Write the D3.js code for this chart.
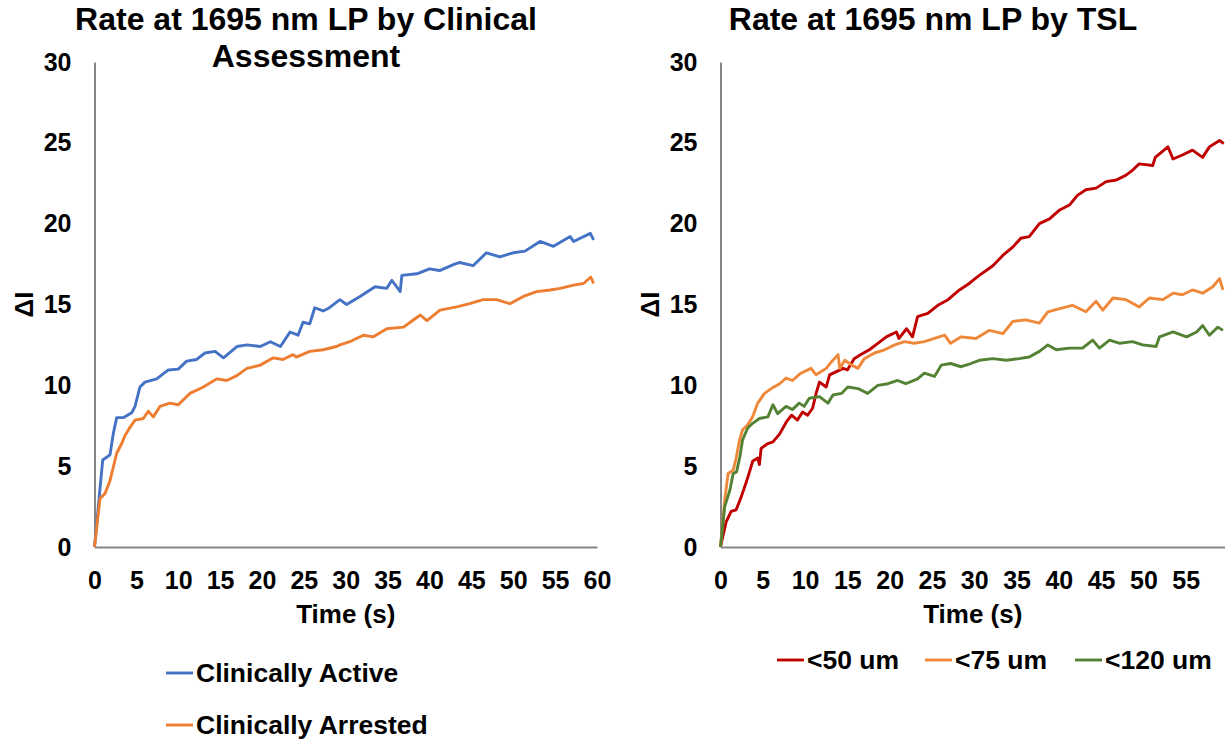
<!DOCTYPE html>
<html>
<head>
<meta charset="utf-8">
<script src="https://cdn.jsdelivr.net/npm/d3@7"></script>
<style>
  body { margin: 0; background: #fff; }
  svg { display: block; }
  text { font-family: 'Liberation Sans', Arial, sans-serif; font-weight: bold; fill: #000; }
</style>
</head>
<body>
<svg id="chart" width="1225" height="742"></svg>
<script>
// values (time in s, delta I)
const activeTime = [0, 0.98, 1.85, 2.24, 2.65, 3.44, 4.44, 4.84, 5.43, 6.03, 7.43, 8.42, 8.81, 10.0, 11.0, 12.2, 13.2, 14.4, 15.4, 17.0, 18.2, 19.8, 21.0, 22.2, 23.35, 24.3, 24.9, 25.7, 26.3, 27.3, 27.9, 29.3, 30.1, 31.7, 33.5, 34.9, 35.5, 36.5, 36.7, 38.5, 40.0, 41.2, 43.0, 43.6, 45.2, 46.8, 48.4, 50.0, 51.4, 53.2, 54.8, 56.8, 57.2, 59.2, 59.6]
const activeValues = [0, 5.38, 5.7, 7.0, 8.0, 8.0, 8.3, 8.7, 9.9, 10.2, 10.4, 10.8, 10.95, 11.0, 11.5, 11.6, 12.0, 12.1, 11.7, 12.4, 12.5, 12.4, 12.7, 12.4, 13.3, 13.1, 13.9, 13.8, 14.8, 14.6, 14.75, 15.3, 15.0, 15.5, 16.1, 16.0, 16.5, 15.8, 16.8, 16.9, 17.2, 17.1, 17.5, 17.6, 17.4, 18.2, 17.95, 18.2, 18.3, 18.9, 18.6, 19.2, 18.9, 19.4, 19.0]

const arrestedTime = [0, 0.66, 1.25, 1.85, 2.65, 3.25, 3.64, 4.24, 4.84, 5.83, 6.42, 7.02, 7.82, 9.0, 10.0, 11.4, 13.0, 14.6, 15.8, 17.0, 18.2, 19.8, 21.35, 22.5, 23.7, 24.1, 25.7, 27.3, 28.9, 29.3, 30.5, 30.9, 32.1, 33.3, 34.9, 36.9, 37.7, 38.9, 39.7, 41.25, 43.25, 44.8, 46.4, 48.0, 49.6, 51.2, 52.8, 54.4, 55.6, 57.2, 58.4, 59.25, 59.6]
const arrestedValues = [0, 3.0, 3.3, 4.1, 5.8, 6.4, 6.9, 7.4, 7.85, 7.95, 8.4, 8.05, 8.7, 8.9, 8.8, 9.5, 9.9, 10.4, 10.3, 10.6, 11.05, 11.25, 11.7, 11.6, 11.9, 11.75, 12.1, 12.2, 12.4, 12.5, 12.7, 12.8, 13.1, 13.0, 13.5, 13.6, 13.9, 14.35, 14.0, 14.65, 14.85, 15.05, 15.3, 15.3, 15.05, 15.5, 15.8, 15.9, 16.0, 16.2, 16.3, 16.7, 16.3]

const tsl50Time = [0, 0.67, 1.26, 1.85, 2.45, 3.04, 3.43, 3.8, 4.4, 4.6, 4.8, 5.6, 6.2, 7.0, 7.8, 8.4, 9.1, 9.7, 10.3, 10.9, 11.3, 11.7, 12.5, 12.9, 13.7, 14.5, 15.0, 15.8, 16.6, 17.6, 18.6, 19.6, 20.8, 21.1, 22.0, 22.7, 23.3, 24.5, 25.7, 26.9, 28.25, 29.4, 30.6, 32.2, 33.4, 34.55, 35.5, 36.5, 37.7, 38.9, 40.1, 41.25, 42.2, 43.2, 44.4, 45.6, 46.8, 47.95, 48.7, 49.5, 51.1, 51.4, 52.9, 53.5, 54.6, 55.8, 57.0, 57.8, 59.0, 59.5]
const tsl50Values = [0, 1.56, 2.2, 2.3, 3.1, 4.0, 4.65, 5.3, 5.5, 5.1, 6.1, 6.4, 6.5, 7.0, 7.75, 8.15, 7.85, 8.35, 8.15, 8.6, 9.5, 10.2, 9.9, 10.65, 10.85, 11.05, 10.95, 11.65, 11.9, 12.2, 12.6, 13.0, 13.3, 12.9, 13.5, 13.0, 14.25, 14.45, 14.95, 15.3, 15.9, 16.3, 16.8, 17.4, 18.05, 18.55, 19.1, 19.2, 20.0, 20.3, 20.85, 21.15, 21.75, 22.1, 22.2, 22.6, 22.7, 23.0, 23.3, 23.7, 23.6, 24.1, 24.75, 24.0, 24.25, 24.55, 24.1, 24.75, 25.15, 24.95]

const tsl75Time = [0, 0.5, 0.9, 1.5, 1.85, 2.25, 2.6, 3.2, 3.8, 4.4, 5.2, 6.0, 7.0, 7.75, 8.5, 9.5, 10.7, 11.3, 12.5, 13.1, 13.9, 14.1, 14.7, 15.5, 16.25, 17.0, 18.2, 19.4, 20.6, 21.75, 22.9, 24.1, 25.3, 26.5, 27.2, 28.45, 30.2, 31.8, 33.4, 34.55, 36.1, 37.7, 38.7, 40.1, 41.6, 43.2, 44.4, 45.2, 46.4, 47.95, 49.5, 50.7, 52.3, 53.5, 54.6, 55.8, 57.0, 58.2, 59.0, 59.4]
const tsl75Values = [0, 2.9, 4.55, 4.75, 5.5, 6.6, 7.25, 7.55, 8.05, 8.9, 9.5, 9.8, 10.1, 10.45, 10.3, 10.75, 11.05, 10.65, 11.05, 11.45, 11.9, 11.05, 11.55, 11.25, 11.05, 11.65, 12.0, 12.2, 12.5, 12.7, 12.6, 12.7, 12.9, 13.1, 12.6, 13.0, 12.9, 13.4, 13.2, 13.95, 14.05, 13.85, 14.55, 14.75, 14.95, 14.55, 15.2, 14.65, 15.4, 15.3, 14.85, 15.4, 15.3, 15.7, 15.6, 15.9, 15.7, 16.1, 16.6, 15.9]

const tsl120Time = [0, 0.5, 1.1, 1.5, 1.9, 2.3, 2.6, 3.2, 3.8, 4.6, 5.6, 6.2, 6.75, 7.75, 8.5, 9.3, 9.9, 10.5, 11.7, 12.7, 13.3, 14.3, 15.05, 16.25, 17.4, 18.6, 19.8, 20.95, 21.9, 23.3, 24.1, 25.3, 26.1, 27.2, 28.45, 29.6, 30.6, 32.2, 33.8, 35.3, 36.5, 37.7, 38.7, 39.7, 41.25, 42.8, 44.0, 44.8, 46.0, 47.2, 48.7, 49.9, 51.5, 51.9, 53.5, 55.1, 56.3, 57.0, 57.8, 58.8, 59.4]
const tsl120Values = [0, 2.5, 3.5, 4.55, 4.65, 5.6, 6.6, 7.35, 7.65, 7.95, 8.05, 8.8, 8.25, 8.7, 8.5, 8.9, 8.7, 9.2, 9.3, 8.9, 9.4, 9.5, 9.9, 9.8, 9.5, 10.0, 10.1, 10.3, 10.1, 10.4, 10.75, 10.55, 11.25, 11.35, 11.15, 11.35, 11.55, 11.65, 11.55, 11.65, 11.75, 12.1, 12.5, 12.2, 12.3, 12.3, 12.8, 12.3, 12.8, 12.6, 12.7, 12.5, 12.4, 13.0, 13.3, 13.0, 13.3, 13.7, 13.1, 13.6, 13.4]

const yTicks = [0, 5, 10, 15, 20, 25, 30]
const xTicksLeft = [0, 5, 10, 15, 20, 25, 30, 35, 40, 45, 50, 55, 60]
const xTicksRight = [0, 5, 10, 15, 20, 25, 30, 35, 40, 45, 50, 55]

const svg = d3.select('#chart')
const axisColor = '#858585'

const y = d3.scaleLinear().domain([0, 30]).range([547, 62])

function drawPanel (opts) {
  const x = d3.scaleLinear().domain([0, 60]).range(opts.xRange)
  const g = svg.append('g')

  g.append('g')
    .attr('transform', `translate(${opts.xRange[0]}, 0)`)
    .call(d3.axisLeft(y).tickValues(yTicks).tickSize(0).tickPadding(23))
    .call(sel => sel.select('.domain').attr('stroke', axisColor).attr('stroke-width', 2))
    .call(sel => sel.selectAll('text').attr('font-size', 25).attr('font-family', null))

  g.append('g')
    .attr('transform', `translate(0, ${y(0)})`)
    .call(d3.axisBottom(x).tickValues(opts.xTicks).tickSize(0).tickPadding(24))
    .call(sel => sel.select('.domain').attr('stroke', axisColor).attr('stroke-width', 2))
    .call(sel => sel.selectAll('text').attr('font-size', 25).attr('font-family', null))

  const line =
    d3.line()
      .x(d => x(d[0]))
      .y(d => y(d[1]))

  opts.series.forEach(s => {
    g.append('path')
      .datum(d3.zip(s.time, s.values))
      .attr('fill', 'none')
      .attr('stroke', s.color)
      .attr('stroke-width', 2.9)
      .attr('stroke-linejoin', 'round')
      .attr('d', line)
  })

  opts.title.forEach((t, i) => {
    g.append('text')
      .attr('x', opts.titleX)
      .attr('y', 30 + i * 37)
      .attr('text-anchor', 'middle')
      .attr('font-size', 32)
      .text(t)
  })

  const midX = (opts.xRange[0] + Math.min(opts.xRange[1], 1225)) / 2
  g.append('text')
    .attr('x', midX)
    .attr('y', 623)
    .attr('text-anchor', 'middle')
    .attr('font-size', 26)
    .text('Time (s)')

  g.append('text')
    .attr('transform', `translate(${opts.xRange[0] - 62}, ${(y(0) + y(30)) / 2}) rotate(-90)`)
    .attr('text-anchor', 'middle')
    .attr('font-size', 26)
    .text('\u0394I')

  opts.legend.forEach(l => {
    g.append('line')
      .attr('x1', l.x).attr('x2', l.x + 27)
      .attr('y1', l.y).attr('y2', l.y)
      .attr('stroke', l.color)
      .attr('stroke-width', 2.9)
    g.append('text')
      .attr('x', l.x + 30)
      .attr('y', l.y + 9)
      .attr('font-size', 26.5)
      .text(l.name)
  })
}

drawPanel({
  xRange: [94.5, 597],
  xTicks: xTicksLeft,
  titleX: 306,
  title: ['Rate at 1695 nm LP by Clinical', 'Assessment'],
  series: [
    { time: activeTime, values: activeValues, color: '#4472C4' },
    { time: arrestedTime, values: arrestedValues, color: '#ED7D31' }
  ],
  legend: [
    { name: 'Clinically Active', color: '#4472C4', x: 166, y: 673 },
    { name: 'Clinically Arrested', color: '#ED7D31', x: 166, y: 725 }
  ]
})

drawPanel({
  xRange: [720.5, 1228],
  xTicks: xTicksRight,
  titleX: 933,
  title: ['Rate at 1695 nm LP by TSL'],
  series: [
    { time: tsl50Time, values: tsl50Values, color: '#C00000' },
    { time: tsl75Time, values: tsl75Values, color: '#F0883A' },
    { time: tsl120Time, values: tsl120Values, color: '#548235' }
  ],
  legend: [
    { name: '<50 um', color: '#C00000', x: 777, y: 660 },
    { name: '<75 um', color: '#F0883A', x: 925, y: 660 },
    { name: '<120 um', color: '#548235', x: 1075, y: 660 }
  ]
})
</script>
</body>
</html>
